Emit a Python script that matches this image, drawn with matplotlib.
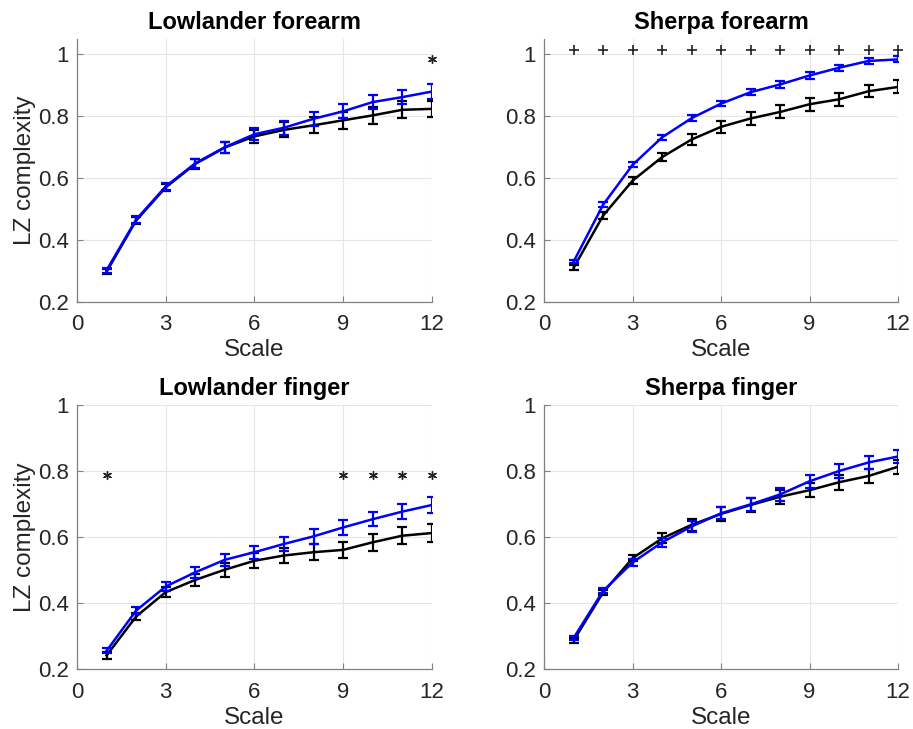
import numpy as np
import matplotlib
matplotlib.use('Agg')
import matplotlib.pyplot as plt

plt.rcParams['font.family'] = ['Liberation Sans', 'DejaVu Sans']

scale = np.arange(1, 13)

titles = ['Lowlander forearm', 'Sherpa forearm', 'Lowlander finger', 'Sherpa finger']

# black series
black_mean = [
    [0.297, 0.463, 0.570, 0.646, 0.699, 0.735, 0.756, 0.771, 0.787, 0.803, 0.821, 0.824],
    [0.310, 0.479, 0.592, 0.668, 0.725, 0.766, 0.793, 0.814, 0.839, 0.855, 0.881, 0.895],
    [0.241, 0.359, 0.433, 0.470, 0.501, 0.528, 0.544, 0.554, 0.561, 0.584, 0.604, 0.612],
    [0.287, 0.432, 0.536, 0.596, 0.637, 0.670, 0.697, 0.722, 0.742, 0.766, 0.785, 0.813],
]
black_err = [
    [0.008, 0.010, 0.012, 0.015, 0.018, 0.022, 0.024, 0.026, 0.027, 0.027, 0.027, 0.027],
    [0.008, 0.010, 0.012, 0.014, 0.017, 0.019, 0.020, 0.021, 0.021, 0.021, 0.020, 0.021],
    [0.010, 0.012, 0.015, 0.018, 0.021, 0.023, 0.024, 0.025, 0.025, 0.025, 0.025, 0.026],
    [0.008, 0.008, 0.010, 0.015, 0.018, 0.020, 0.020, 0.022, 0.022, 0.022, 0.022, 0.021],
]

# blue series
blue_mean = [
    [0.302, 0.466, 0.573, 0.648, 0.700, 0.742, 0.763, 0.792, 0.816, 0.846, 0.862, 0.880],
    [0.330, 0.514, 0.643, 0.732, 0.794, 0.841, 0.878, 0.903, 0.932, 0.957, 0.979, 0.984],
    [0.255, 0.377, 0.450, 0.493, 0.531, 0.554, 0.579, 0.602, 0.629, 0.654, 0.677, 0.697],
    [0.294, 0.437, 0.523, 0.584, 0.632, 0.672, 0.699, 0.729, 0.769, 0.800, 0.826, 0.844],
]
blue_err = [
    [0.008, 0.010, 0.012, 0.015, 0.018, 0.020, 0.022, 0.023, 0.023, 0.023, 0.023, 0.025],
    [0.006, 0.008, 0.008, 0.008, 0.009, 0.009, 0.010, 0.010, 0.010, 0.010, 0.010, 0.010],
    [0.008, 0.011, 0.014, 0.017, 0.019, 0.020, 0.021, 0.022, 0.022, 0.022, 0.023, 0.024],
    [0.006, 0.008, 0.010, 0.013, 0.016, 0.018, 0.019, 0.019, 0.020, 0.020, 0.020, 0.020],
]

# significance markers
sig_scales = [[12], list(range(1, 13)), [1, 9, 10, 11, 12], []]
sig_marker = ['star', 'plus', 'star', 'star']
sig_y = [0.985, 1.016, 0.788, 0.0]

ylims = [(0.2, 1.05), (0.2, 1.05), (0.2, 1.0), (0.2, 1.0)]

positions = [
    [0.0843, 0.586, 0.3887, 0.3605],
    [0.596, 0.586, 0.3876, 0.3605],
    [0.0843, 0.0823, 0.3887, 0.3621],
    [0.596, 0.0823, 0.3876, 0.3621],
]

fig = plt.figure(figsize=(9.13, 7.29), dpi=100)
txt = '#262626'

for i in range(4):
    ax = fig.add_axes(positions[i])
    ax.errorbar(scale, black_mean[i], yerr=black_err[i], color='black', lw=1.8,
                elinewidth=1.6, capsize=3.5, capthick=1.6, zorder=3)
    ax.errorbar(scale, blue_mean[i], yerr=blue_err[i], color='#0000ff', lw=1.8,
                elinewidth=1.6, capsize=3.5, capthick=1.6, zorder=4)
    if sig_scales[i]:
        if sig_marker[i] == 'star':
            ax.scatter(sig_scales[i], [sig_y[i]] * len(sig_scales[i]), marker=(6, 2, 0),
                       s=32, color='#222222', linewidths=1.0, zorder=5, clip_on=False)
        else:
            ax.scatter(sig_scales[i], [sig_y[i]] * len(sig_scales[i]), marker='+',
                       s=55, color='#222222', linewidths=1.2, zorder=5, clip_on=False)

    ax.set_xlim(0, 12)
    ax.set_ylim(*ylims[i])
    ax.set_xticks([0, 3, 6, 9, 12])
    ax.set_yticks([0.2, 0.4, 0.6, 0.8, 1.0])
    ax.set_yticklabels(['0.2', '0.4', '0.6', '0.8', '1'])
    ax.grid(True, color='#e6e6e6', lw=0.8)
    ax.set_axisbelow(True)
    for s in ['top', 'right']:
        ax.spines[s].set_visible(False)
    for s in ['left', 'bottom']:
        ax.spines[s].set_color('#808080')
        ax.spines[s].set_linewidth(0.9)
    ax.tick_params(direction='in', length=4, color='#808080', labelsize=16,
                   labelcolor=txt)
    ax.tick_params(axis='x', pad=9)
    ax.tick_params(axis='y', pad=6)
    ax.set_xlabel('Scale', fontsize=17.5, color=txt, labelpad=3)
    if i in (0, 2):
        ax.set_ylabel('LZ complexity', fontsize=17.5, color=txt, labelpad=1)
    ax.set_title(titles[i], fontsize=17, fontweight='bold', pad=7)

fig.savefig('out.png', dpi=100)
